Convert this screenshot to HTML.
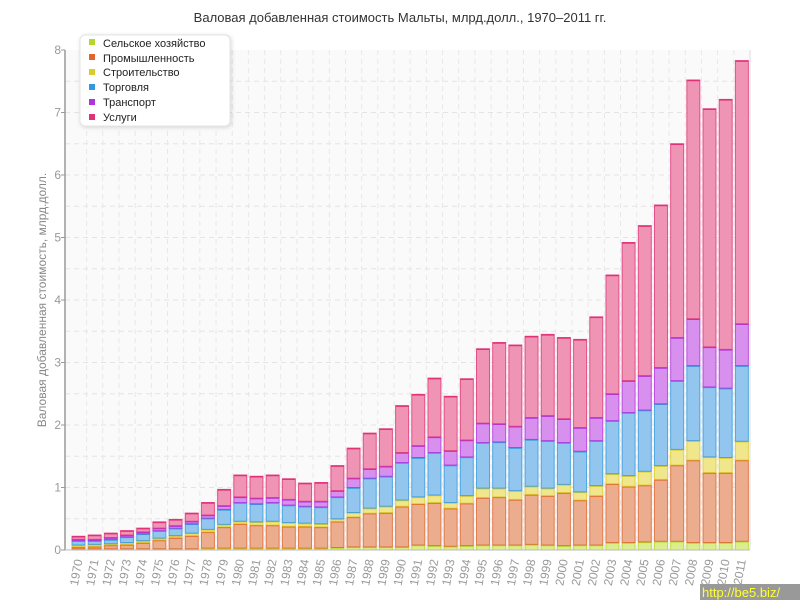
<!DOCTYPE html>
<html><head><meta charset="utf-8"><style>
html,body{margin:0;padding:0;background:#fff;}
svg{display:block;font-family:"Liberation Sans",sans-serif;}
</style></head><body>
<svg id="s" width="800" height="600" xmlns="http://www.w3.org/2000/svg">
<rect x="65" y="50" width="685" height="500" fill="#fafafa"/>
<g id="grid"></g>
<g id="bars"></g>
<line x1="65" y1="50" x2="65" y2="550" stroke="#999" stroke-width="1.5"/>
<line x1="65" y1="550" x2="750" y2="550" stroke="#bbb" stroke-width="1"/>
<line x1="750" y1="50" x2="750" y2="550" stroke="#ddd" stroke-width="1"/>
<g id="ticks"></g>
<text x="400" y="22" text-anchor="middle" font-size="13" fill="#333">Валовая добавленная стоимость Мальты, млрд.долл., 1970–2011 гг.</text>
<text transform="translate(46,300) rotate(-90)" text-anchor="middle" font-size="12" fill="#888">Валовая добавленная стоимость, млрд.долл.</text>
<g font-size="12" fill="#999" text-anchor="end">
<text x="61" y="554">0</text><text x="61" y="491.5">1</text><text x="61" y="429">2</text><text x="61" y="366.5">3</text><text x="61" y="304">4</text><text x="61" y="241.5">5</text><text x="61" y="179">6</text><text x="61" y="116.5">7</text><text x="61" y="54">8</text>
</g>
<g id="xl" font-size="12" fill="#999" text-anchor="end">
<text>1970</text><text>1971</text><text>1972</text><text>1973</text><text>1974</text><text>1975</text><text>1976</text><text>1977</text><text>1978</text><text>1979</text><text>1980</text><text>1981</text><text>1982</text><text>1983</text><text>1984</text><text>1985</text><text>1986</text><text>1987</text><text>1988</text><text>1989</text><text>1990</text><text>1991</text><text>1992</text><text>1993</text><text>1994</text><text>1995</text><text>1996</text><text>1997</text><text>1998</text><text>1999</text><text>2000</text><text>2001</text><text>2002</text><text>2003</text><text>2004</text><text>2005</text><text>2006</text><text>2007</text><text>2008</text><text>2009</text><text>2010</text><text>2011</text>
</g>
<rect x="80" y="35" width="150" height="91" rx="5" fill="#fff" stroke="#e4e4e4" style="filter:drop-shadow(1px 1px 2px rgba(0,0,0,.15))"/>
<g font-size="11" fill="#222">
<rect x="89" y="39" width="6" height="6" fill="#b5d62a"/><text x="103" y="47">Сельское хозяйство</text>
<rect x="89" y="54" width="6" height="6" fill="#e0662e"/><text x="103" y="62">Промышленность</text>
<rect x="89" y="69" width="6" height="6" fill="#dccc2a"/><text x="103" y="76">Строительство</text>
<rect x="89" y="84" width="6" height="6" fill="#3399dd"/><text x="103" y="91">Торговля</text>
<rect x="89" y="99" width="6" height="6" fill="#b033dd"/><text x="103" y="106">Транспорт</text>
<rect x="89" y="114" width="6" height="6" fill="#e03377"/><text x="103" y="121">Услуги</text>
</g>
<rect x="700" y="584" width="100" height="16" fill="#999"/>
<text x="702" y="597" font-size="13" fill="#ffff33">http://be5.biz/</text>
</svg>
<script>
(function(){
var d=[[.02,.05,.08,.15,.17,.22],[.02,.06,.09,.15,.17,.24],[.02,.08,.1,.17,.2,.27],[.02,.09,.12,.21,.24,.31],[.02,.12,.15,.26,.29,.35],[.02,.16,.19,.31,.35,.45],[.02,.2,.23,.35,.39,.49],[.02,.23,.27,.42,.46,.59],[.03,.29,.33,.51,.56,.76],[.03,.37,.41,.65,.71,.97],[.03,.42,.46,.76,.85,1.2],[.03,.4,.45,.74,.83,1.18],[.03,.4,.46,.76,.84,1.2],[.03,.38,.44,.72,.81,1.14],[.03,.38,.43,.7,.78,1.07],[.03,.37,.42,.69,.78,1.08],[.04,.46,.5,.85,.95,1.35],[.05,.53,.6,1,1.15,1.63],[.05,.59,.67,1.15,1.3,1.87],[.05,.6,.7,1.18,1.34,1.94],[.05,.7,.8,1.4,1.56,2.31],[.08,.74,.85,1.48,1.67,2.49],[.07,.76,.88,1.56,1.81,2.75],[.06,.67,.76,1.36,1.59,2.46],[.07,.75,.87,1.49,1.76,2.74],[.08,.84,.99,1.72,2.03,3.22],[.08,.85,.99,1.73,2.02,3.32],[.08,.81,.95,1.64,1.98,3.28],[.09,.89,1.02,1.77,2.12,3.42],[.08,.87,.99,1.75,2.15,3.45],[.07,.92,1.05,1.72,2.1,3.4],[.08,.8,.93,1.58,1.96,3.37],[.08,.87,1.03,1.75,2.12,3.73],[.12,1.06,1.22,2.07,2.5,4.4],[.12,1.02,1.19,2.2,2.71,4.92],[.13,1.04,1.26,2.24,2.79,5.19],[.14,1.13,1.35,2.34,2.92,5.52],[.14,1.36,1.61,2.71,3.4,6.5],[.12,1.44,1.75,2.95,3.7,7.52],[.12,1.24,1.49,2.61,3.25,7.06],[.12,1.24,1.48,2.59,3.21,7.21],[.14,1.44,1.74,2.95,3.62,7.83]];
var F=["#dcee8c","#ecac8e","#f0e68c","#92c6ee","#d890ee","#f094b6"],S=["#b5d62a","#e0662e","#dccc2a","#3399dd","#b033dd","#e03377"];
var ns="http://www.w3.org/2000/svg";
function el(p,t,a){var e=document.createElementNS(ns,t);for(var k in a)e.setAttribute(k,a[k]);p.appendChild(e);return e;}
var g=document.getElementById('grid'),b=document.getElementById('bars'),tk=document.getElementById('ticks');
for(var v=0.5;v<8;v+=0.5){var yy=550-v*62.5;el(g,'line',{x1:65,x2:750,y1:yy,y2:yy,stroke:'#e4e4e4','stroke-dasharray':'5,4'});}
for(var v2=0;v2<=8;v2++){var y2=550-v2*62.5;el(tk,'line',{x1:61,x2:65,y1:y2,y2:y2,stroke:'#999'});}
var xl=document.getElementById('xl').children;
for(var i=0;i<42;i++){
 var cx=78.5+i*16.18;
 el(g,'line',{x1:cx+8.1,x2:cx+8.1,y1:50,y2:550,stroke:'#e8e8e8','stroke-dasharray':'5,4'});
 var prev=0;
 for(var j=0;j<6;j++){var tp=550-d[i][j]*62.5,bt=550-prev*62.5;
  el(b,'rect',{x:cx-6.5,y:tp,width:13,height:Math.max(bt-tp,0.5),fill:F[j],stroke:S[j],'stroke-width':1,'stroke-opacity':0.8});
  el(b,'line',{x1:cx-6.5,x2:cx+6.5,y1:tp+0.5,y2:tp+0.5,stroke:S[j],'stroke-width':1.5});
  prev=d[i][j];}
 var t=xl[i];t.setAttribute('x',cx+4);t.setAttribute('y',560);t.setAttribute('transform','rotate(-80,'+(cx+4)+',560)');
}
})();
</script>
</body></html>
